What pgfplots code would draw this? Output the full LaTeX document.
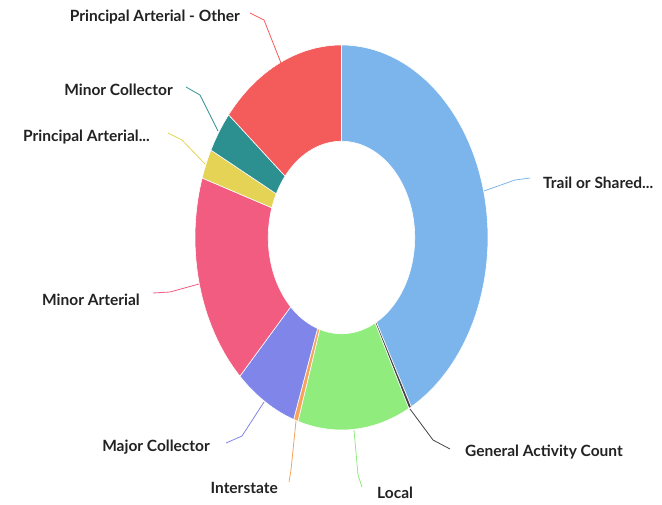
\documentclass[border=0pt]{standalone}
\usepackage{pgfplots}
\usepackage{pgfplotstable}
\pgfplotsset{compat=1.18}
\usepackage{fontspec}
\setmainfont{Lato}
\definecolor{c0}{HTML}{7CB5EC}
\definecolor{c1}{HTML}{434348}
\definecolor{c2}{HTML}{90ED7D}
\definecolor{c3}{HTML}{F7A35C}
\definecolor{c4}{HTML}{8085E9}
\definecolor{c5}{HTML}{F15C80}
\definecolor{c6}{HTML}{E4D354}
\definecolor{c7}{HTML}{2B908F}
\definecolor{c8}{HTML}{F45B5B}
\definecolor{lbl}{HTML}{222222}
\pgfplotstableread{
label value
Trail 42.1
GAC 0.3
Local 12.4
Interstate 0.5
MajorCollector 6.9
MinorArterial 17.8
PrincipalArterial 2.5
MinorCollector 3.5
PAOther 14.0
}\datatable
\begin{document}
\begin{tikzpicture}
\begin{axis}[name=ax,
  width=662pt, height=505pt, scale only axis,
  xmin=0, xmax=662, ymin=0, ymax=505, y dir=reverse,
  hide axis, clip=false,
]
\pgfmathsetmacro{\cum}{0}
\pgfplotsforeachungrouped \i in {0,...,8} {
  \pgfplotstablegetelem{\i}{value}\of\datatable
  \pgfmathsetmacro{\A}{\cum*3.6}
  \pgfmathsetmacro{\B}{(\cum+\pgfplotsretval)*3.6}
  \pgfmathsetmacro{\cum}{\cum+\pgfplotsretval}
  \edef\temp{\noexpand\addplot[fill=c\i, draw=white, line width=0.6pt, domain=0:1, samples=121, variable=\noexpand\t]
    ({341.5+146.5*ifthenelse(\noexpand\t<0.504, sin(\A+(\B-\A)*2*\noexpand\t), 0.5*sin(\B-(\B-\A)*(\noexpand\t-0.508333)/0.491667))},
     {237.5-192.5*ifthenelse(\noexpand\t<0.504, cos(\A+(\B-\A)*2*\noexpand\t), 0.5*cos(\B-(\B-\A)*(\noexpand\t-0.508333)/0.491667))}) -- cycle;}
  \temp
}
% connectors
\addplot[c8, line width=0.8pt] coordinates {(250,13) (264,20) (281,63)};
\addplot[c7, line width=0.8pt] coordinates {(186,87) (200,95) (218,131)};
\addplot[c6, line width=0.8pt] coordinates {(168,133) (182,140) (205,164)};
\addplot[c5, line width=0.8pt] coordinates {(153,293) (170,292) (199,284)};
\addplot[c4, line width=0.8pt] coordinates {(226,443) (242,436) (264,402)};
\addplot[c3, line width=0.8pt] coordinates {(289,482) (291,470) (296,421)};
\addplot[c2, line width=0.8pt] coordinates {(362,487) (358,475) (354,430)};
\addplot[c1, line width=0.8pt] coordinates {(450,449) (433,440) (410,409)};
\addplot[c0, line width=0.8pt] coordinates {(530,178) (515,180) (484,191)};
% labels
\begin{scope}[every node/.style={font=\fontsize{15.5}{17}\selectfont\bfseries, text=lbl, inner sep=0pt}]
\node[anchor=east] at (axis cs:240,17) {Principal Arterial - Other};
\node[anchor=east] at (axis cs:173,90) {Minor Collector};
\node[anchor=east] at (axis cs:150,137) {Principal Arterial...};
\node[anchor=east] at (axis cs:140,300) {Minor Arterial};
\node[anchor=east] at (axis cs:210,447) {Major Collector};
\node[anchor=east] at (axis cs:278,488) {Interstate};
\node[anchor=west] at (axis cs:543,183) {Trail or Shared...};
\node[anchor=west] at (axis cs:465,452) {General Activity Count};
\node[anchor=west] at (axis cs:377,493) {Local};
\end{scope}
\end{axis}
\pgfresetboundingbox
\path (ax.south west) rectangle (ax.north east);
\end{tikzpicture}
\end{document}
